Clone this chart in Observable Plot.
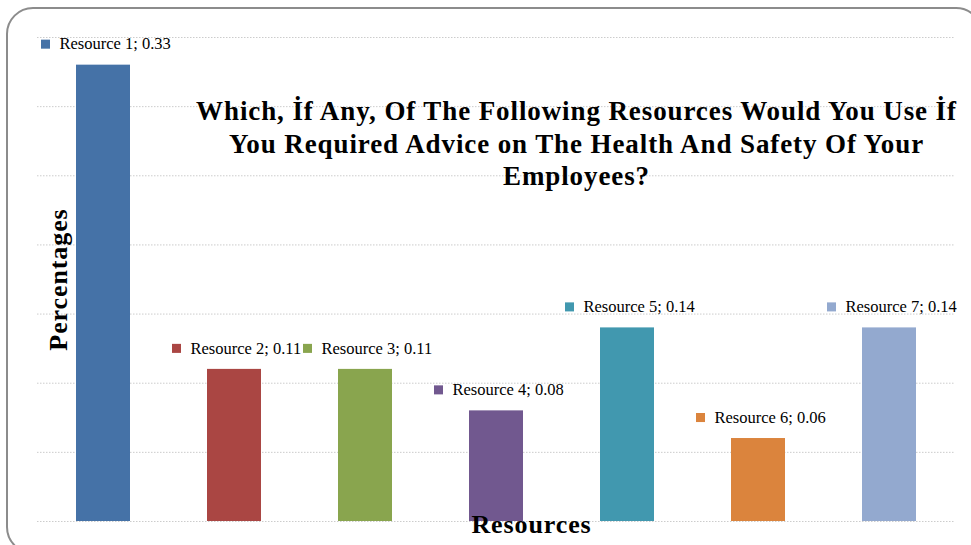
<!DOCTYPE html>
<html>
<head>
<meta charset="utf-8">
<script src="https://cdn.jsdelivr.net/npm/d3@7"></script>
<script src="https://cdn.jsdelivr.net/npm/@observablehq/plot@0.6"></script>
<style>
  html, body { margin: 0; padding: 0; background: #fff; }
  #chart { position: relative; width: 971px; height: 545px; overflow: hidden; }
  .wide text { letter-spacing: 0.9px; }
</style>
</head>
<body>
<div id="chart"></div>
<script>
// Survey answers: share of respondents choosing each resource
const resources = ["Resource 1", "Resource 2", "Resource 3", "Resource 4", "Resource 5", "Resource 6", "Resource 7"];
const shares = [0.33, 0.11, 0.11, 0.08, 0.14, 0.06, 0.14];
const colors = ["#4572A7", "#AA4643", "#89A54E", "#71588F", "#4198AF", "#DB843D", "#93A9CF"];
const gridTicks = [0, 0.05, 0.1, 0.15, 0.2, 0.25, 0.3, 0.35];

const titleText = "Which, İf Any, Of The Following Resources Would You Use İf\nYou Required Advice on The Health And Safety Of Your\nEmployees?";
const xTitle = "Resources";
const yTitle = "Percentages";

const rows = resources.map((r, i) => ({resource: r, share: shares[i], color: colors[i]}));
const serif = "'Liberation Serif', 'Times New Roman', serif";

const chart = Plot.plot({
  width: 971,
  height: 545,
  marginTop: 37,
  marginBottom: 24,
  marginLeft: 37,
  marginRight: 16,
  style: {fontFamily: serif, background: "transparent", color: "#000"},
  x: {domain: resources, axis: null, paddingInner: 0.59, paddingOuter: 0.295, align: 0.5},
  y: {domain: [0, 0.35], axis: null},
  color: {type: "identity"},
  marks: [
    Plot.gridY(gridTicks, {stroke: "#cccccc", strokeOpacity: 1, strokeDasharray: "1.5,1.5", strokeWidth: 1}),
    Plot.barY(rows, {x: "resource", y: "share", fill: "color"}),
    Plot.dot(rows, {x: "resource", y: "share", symbol: "square", r: 5.1, fill: "color", stroke: null, dx: -58, dy: -21}),
    Plot.text(rows, {
      x: "resource", y: "share",
      text: d => `${d.resource}; ${d.share.toFixed(2)}`,
      textAnchor: "start", dx: -44, dy: -21, fontSize: 16.5, fill: "#000"
    }),
    Plot.text([titleText], {
      frameAnchor: "top", dx: 80, dy: 104.5, lineAnchor: "middle",
      fontSize: 27, fontWeight: "bold", lineHeight: 1.22, fill: "#000", className: "wide"
    }),
    Plot.text([yTitle], {
      frameAnchor: "left", textAnchor: "middle", dx: 21, rotate: -90,
      fontSize: 26, fontWeight: "bold", fill: "#000", className: "wide"
    }),
    Plot.text([xTitle], {
      frameAnchor: "bottom", dx: 35, dy: 11,
      fontSize: 26, fontWeight: "bold", fill: "#000", className: "wide"
    })
  ]
});

// rounded outline of the chart area
d3.select(chart).append("rect")
  .attr("x", 7).attr("y", 8)
  .attr("width", 975).attr("height", 545)
  .attr("rx", 26).attr("ry", 26)
  .attr("fill", "none")
  .attr("stroke", "#8c8c8c")
  .attr("stroke-width", 2);

document.getElementById("chart").append(chart);
</script>
</body>
</html>
